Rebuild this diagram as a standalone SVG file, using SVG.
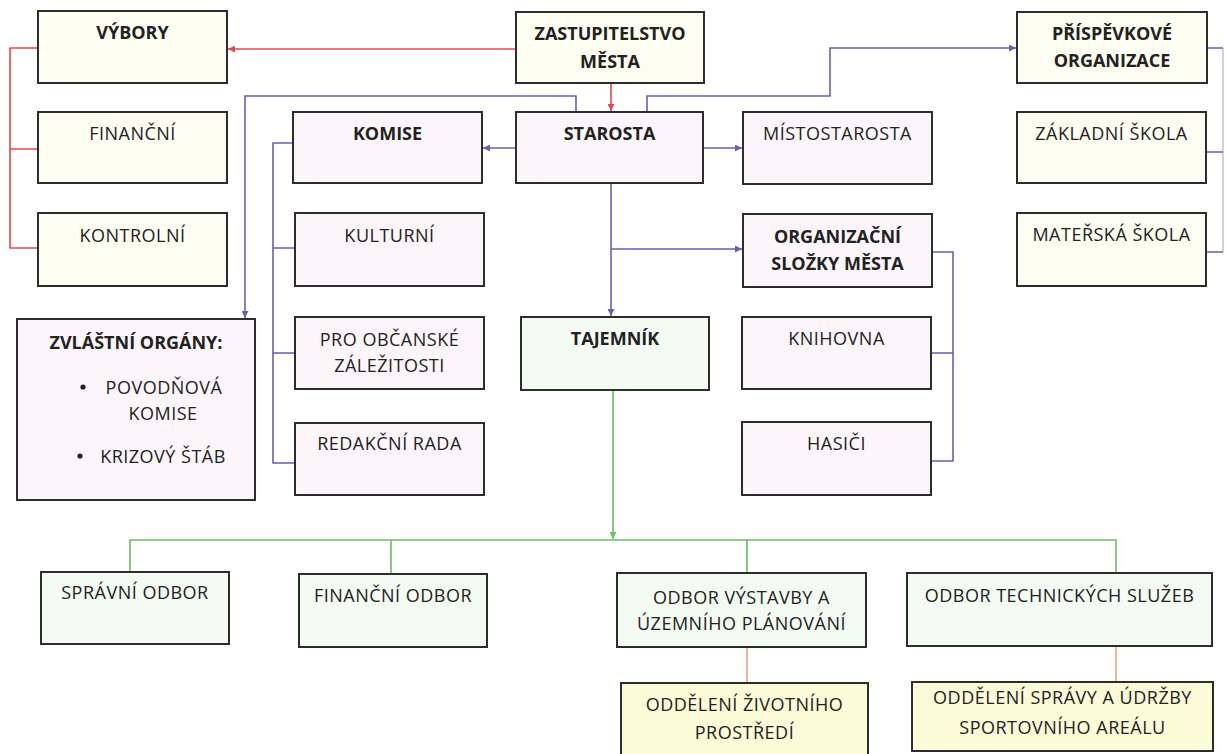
<svg xmlns="http://www.w3.org/2000/svg" width="1227" height="754" viewBox="0 0 1227 754">
<defs>
<style>
.box{stroke:#2d2d2d;stroke-width:2}
.cream{fill:#fdfdf2}
.pink{fill:#fcf6fb}
.green{fill:#f4fbf2}
.yellow{fill:#fcfbd8}
text{font-family:"Open Sans","Liberation Sans",sans-serif;font-size:18px;letter-spacing:0.5px;fill:#222;text-anchor:middle}
.b{font-weight:bold;letter-spacing:0}
.red{stroke:#e5484b;stroke-width:1.6;fill:none}
.pur{stroke:#6a5fb0;stroke-width:1.6;fill:none}
.pur2{stroke:#c9c2e2;stroke-width:1.6;fill:none}
.grn{stroke:#6bbd66;stroke-width:1.6;fill:none}
.org{stroke:#f0a07a;stroke-width:1.6;fill:none}
</style>
<marker id="aRed" viewBox="0 0 8 8" refX="8" refY="4" markerWidth="7" markerHeight="7" markerUnits="userSpaceOnUse" orient="auto"><path d="M0,0 L8,4 L0,8 z" fill="#e5484b"/></marker>
<marker id="aPur" viewBox="0 0 8 8" refX="8" refY="4" markerWidth="7" markerHeight="7" markerUnits="userSpaceOnUse" orient="auto"><path d="M0,0 L8,4 L0,8 z" fill="#6a5fb0"/></marker>
<marker id="aGrn" viewBox="0 0 8 8" refX="8" refY="4" markerWidth="7" markerHeight="7" markerUnits="userSpaceOnUse" orient="auto"><path d="M0,0 L8,4 L0,8 z" fill="#6bbd66"/></marker>
</defs>
<rect width="1227" height="754" fill="#ffffff"/>

<g id="connectors">
<path class="red" d="M516,49 H228" marker-end="url(#aRed)"/>
<path class="red" d="M611,83 V111" marker-end="url(#aRed)"/>
<path class="red" d="M38,48 H10 V248 H38 M10,149 H38"/>
<path class="pur" d="M576,112 V96 H245 V318" marker-end="url(#aPur)"/>
<path class="pur" d="M647,112 V96 H830 V48 H1016" marker-end="url(#aPur)"/>
<path class="pur" d="M516,148 H483" marker-end="url(#aPur)"/>
<path class="pur" d="M703,148 H742" marker-end="url(#aPur)"/>
<path class="pur" d="M611,183 V316" marker-end="url(#aPur)"/>
<path class="pur" d="M611,249 H742" marker-end="url(#aPur)"/>
<path class="pur" d="M293,143 H273 V463 H295 M273,248 H295 M273,353 H295"/>
<path class="pur" d="M932,252 H953 V461 H931 M931,353 H953"/>
<path class="pur2" d="M1223,48 V252"/>
<path class="pur" d="M1207,48 H1223 M1206,152 H1223 M1206,252 H1223"/>
<path class="grn" d="M613,390 V539" marker-end="url(#aGrn)"/>
<path class="grn" d="M130,572 V540 H1116 V573 M391,540 V574 M747,540 V573"/>
<path class="org" d="M747,647 V683 M1116,646 V682"/>
</g>

<g id="vybory"><rect class="box cream" x="38" y="11" width="189" height="72"/><text class="b" x="132.5" y="38.5">VÝBORY</text></g>
<g id="financni"><rect class="box cream" x="38" y="112" width="189" height="71"/><text x="132.5" y="139.5">FINANČNÍ</text></g>
<g id="kontrolni"><rect class="box cream" x="38" y="213" width="189" height="73"/><text x="132.5" y="241.5">KONTROLNÍ</text></g>
<g id="zastupitelstvo"><rect class="box cream" x="516" y="12" width="188" height="71"/><text class="b" x="610" y="39.5">ZASTUPITELSTVO</text><text class="b" x="610" y="67.5">MĚSTA</text></g>
<g id="starosta"><rect class="box pink" x="516" y="112" width="187" height="71"/><text class="b" x="609.5" y="139.5">STAROSTA</text></g>
<g id="komise"><rect class="box pink" x="293" y="112" width="189" height="71"/><text class="b" x="387.5" y="139.5">KOMISE</text></g>
<g id="kulturni"><rect class="box pink" x="295" y="213" width="189" height="73"/><text x="389.5" y="241.5">KULTURNÍ</text></g>
<g id="mistostarosta"><rect class="box pink" x="743" y="112" width="189" height="72"/><text x="837.5" y="139.5">MÍSTOSTAROSTA</text></g>
<g id="organizacni"><rect class="box pink" x="743" y="214" width="189" height="73"/><text class="b" x="837.5" y="242.5">ORGANIZAČNÍ</text><text class="b" x="837.5" y="269.5">SLOŽKY MĚSTA</text></g>
<g id="prispevkove"><rect class="box cream" x="1017" y="12" width="190" height="71"/><text class="b" x="1112" y="39.5">PŘÍSPĚVKOVÉ</text><text class="b" x="1112" y="66.5">ORGANIZACE</text></g>
<g id="zakladni"><rect class="box cream" x="1017" y="112" width="189" height="71"/><text x="1111.5" y="139.5">ZÁKLADNÍ ŠKOLA</text></g>
<g id="materska"><rect class="box cream" x="1017" y="213" width="189" height="73"/><text x="1111.5" y="240.5">MATEŘSKÁ ŠKOLA</text></g>
<g id="zvlastni"><rect class="box pink" x="17" y="319" width="238" height="181"/><text class="b" x="136" y="348.5">ZVLÁŠTNÍ ORGÁNY:</text><circle cx="83" cy="387" r="2.6" fill="#222"/><text x="164" y="393.5">POVODŇOVÁ</text><text x="163" y="419.5">KOMISE</text><circle cx="80" cy="456" r="2.6" fill="#222"/><text x="163" y="462.5">KRIZOVÝ ŠTÁB</text></g>
<g id="pro-obcanske"><rect class="box pink" x="295" y="317" width="189" height="72"/><text x="389.5" y="345.5">PRO OBČANSKÉ</text><text x="389.5" y="371.5">ZÁLEŽITOSTI</text></g>
<g id="redakcni"><rect class="box pink" x="295" y="423" width="189" height="72"/><text x="389.5" y="449.5">REDAKČNÍ RADA</text></g>
<g id="tajemnik"><rect class="box green" x="521" y="317" width="188" height="73"/><text class="b" x="615" y="344.5">TAJEMNÍK</text></g>
<g id="knihovna"><rect class="box pink" x="742" y="317" width="189" height="72"/><text x="836.5" y="344.5">KNIHOVNA</text></g>
<g id="hasici"><rect class="box pink" x="742" y="422" width="189" height="73"/><text x="836.5" y="449.5">HASIČI</text></g>
<g id="spravni-odbor"><rect class="box green" x="41" y="572" width="188" height="72"/><text x="135" y="598.5">SPRÁVNÍ ODBOR</text></g>
<g id="financni-odbor"><rect class="box green" x="299" y="574" width="188" height="73"/><text x="393" y="601.5">FINANČNÍ ODBOR</text></g>
<g id="odbor-vystavby"><rect class="box green" x="617" y="573" width="249" height="74"/><text x="741.5" y="603.5">ODBOR VÝSTAVBY A</text><text x="741.5" y="629.5">ÚZEMNÍHO PLÁNOVÁNÍ</text></g>
<g id="odbor-technickych"><rect class="box green" x="907" y="573" width="305" height="73"/><text x="1059.5" y="601.5">ODBOR TECHNICKÝCH SLUŽEB</text></g>
<g id="oddeleni-zp"><rect class="box yellow" x="621" y="683" width="247" height="75"/><text x="744.5" y="710.5">ODDĚLENÍ ŽIVOTNÍHO</text><text x="744.5" y="738.5">PROSTŘEDÍ</text></g>
<g id="oddeleni-sa"><rect class="box yellow" x="912" y="682" width="301" height="69"/><text x="1062.5" y="703.5">ODDĚLENÍ SPRÁVY A ÚDRŽBY</text><text x="1062.5" y="733.5">SPORTOVNÍHO AREÁLU</text></g>
</svg>
